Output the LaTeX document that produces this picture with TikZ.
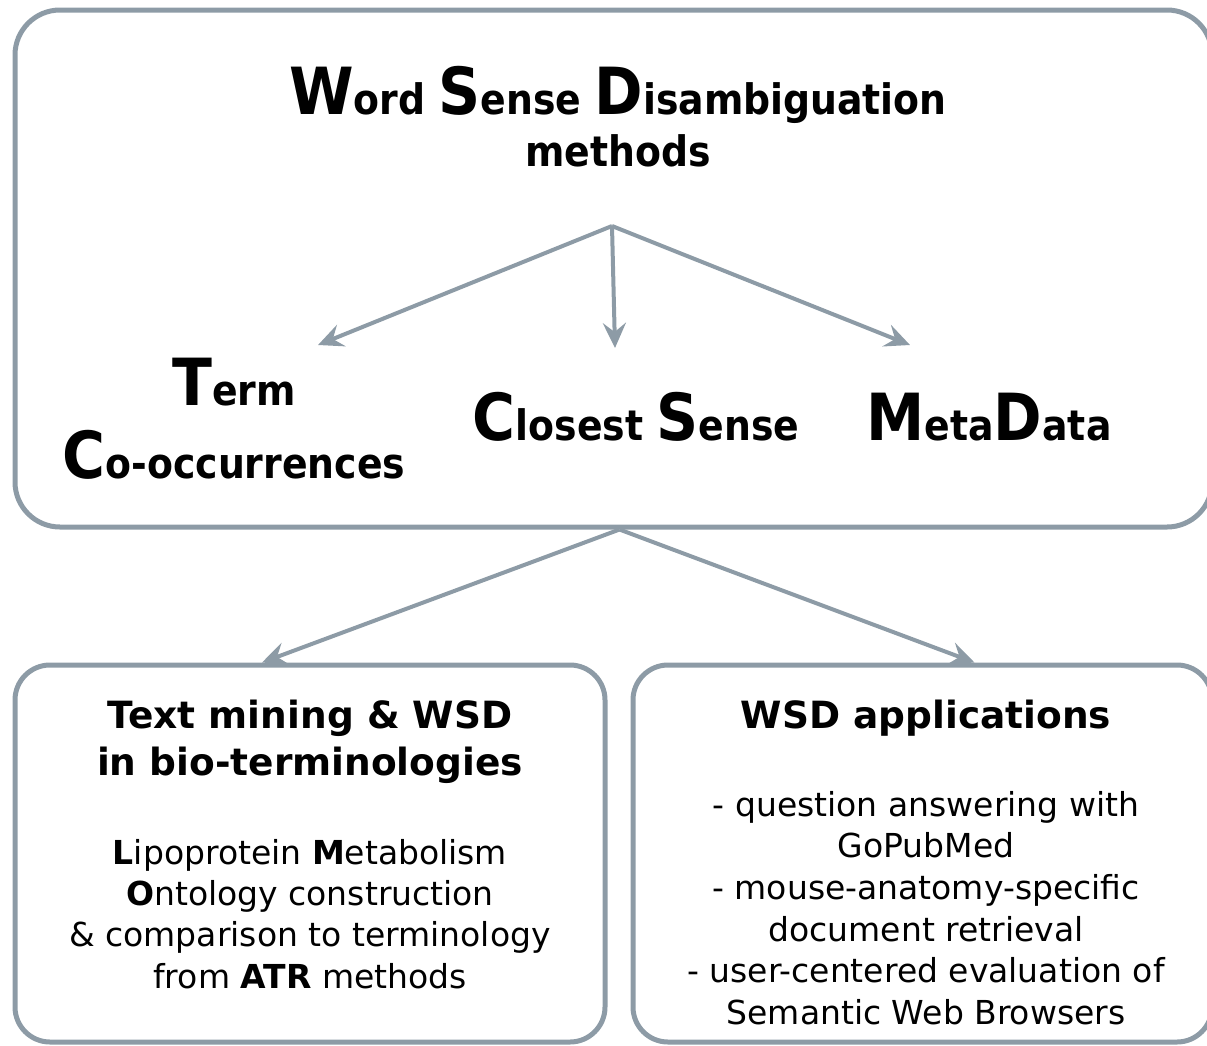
\documentclass[tikz,border=0pt]{standalone}
\usepackage{fontspec}
\setmainfont{DejaVu Sans}
\newfontfamily\headfont{DejaVu Sans Condensed}
\usetikzlibrary{arrows.meta}
\definecolor{wsdgray}{HTML}{8D9BA6}
\newcommand{\ini}[1]{{\fontsize{65}{65}\selectfont #1}}
\tikzset{
  box/.style={draw=wsdgray, line width=5pt, inner sep=0pt},
  link/.style={draw=wsdgray, line width=4pt, -{Stealth[length=25pt,width=23pt,inset=9pt]}},
  head/.style={font=\headfont\bfseries\fontsize{42}{52}\selectfont, align=center, inner sep=0pt},
  title/.style={font=\bfseries\fontsize{37.5}{47}\selectfont, align=center, inner sep=0pt},
  body/.style={font=\fontsize{33}{41.3}\selectfont, align=center, inner sep=0pt}
}

\begin{document}
\begin{tikzpicture}[x=1pt,y=-1pt]
  \useasboundingbox (0,0) rectangle (1207,1045);
  \node[box, rounded corners=45pt, minimum width=1197pt, minimum height=517pt] (topbox) at (613.5,268.5) {};
  \node[box, rounded corners=35pt, minimum width=590pt, minimum height=377pt] (leftbox) at (310,853.5) {};
  \node[box, rounded corners=35pt, minimum width=579pt, minimum height=377pt] (rightbox) at (922.5,853.5) {};

  \node[head, anchor=north] (wsd) at (618,66) {\ini{W}ord \ini{S}ense \ini{D}isambiguation\\methods};
  \node[head, anchor=north, font=\headfont\bfseries\fontsize{42}{73}\selectfont] (term) at (234,358) {\ini{T}erm\\\ini{C}o-occurrences};
  \node[head, anchor=base] (closest) at (636,440) {\ini{C}losest \ini{S}ense};
  \node[head, anchor=base] (meta) at (989,440) {\ini{M}eta\ini{D}ata};

  \coordinate (split) at (612,226);
  \coordinate (tipterm) at (318,345); \coordinate (tipclosest) at (615,348); \coordinate (tipmeta) at (910,345);
  \draw[link] (split) -- (tipterm); \draw[link] (split) -- (tipclosest); \draw[link] (split) -- (tipmeta);
  \draw[link] ([xshift=6pt]topbox.south) -- ([xshift=-48pt]leftbox.north);
  \draw[link] ([xshift=6pt]topbox.south) -- ([xshift=52pt]rightbox.north);

  \node[title, anchor=north] (mining) at (310,700) {Text mining \& WSD\\in bio-terminologies};
  \node[body, anchor=north] (lmo) at (310,839) {\textbf{L}ipoprotein \textbf{M}etabolism\\\textbf{O}ntology construction\\\& comparison to terminology\\from \textbf{ATR} methods};
  \node[title, anchor=north] (apps) at (926,700) {WSD applications};
  \node[body, anchor=north, font=\fontsize{33}{41.6}\selectfont] (uses) at (926,791) {- question answering with\\GoPubMed\\- mouse-anatomy-specific\\document retrieval\\- user-centered evaluation of\\Semantic Web Browsers};
\end{tikzpicture}
\end{document}
